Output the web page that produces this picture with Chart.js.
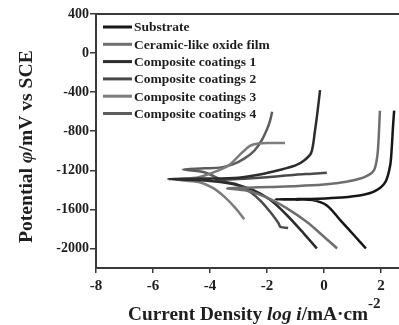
<!DOCTYPE html>
<html>
<head>
<meta charset="utf-8">
<script src="https://cdn.jsdelivr.net/npm/chart.js@4.4.1/dist/chart.umd.min.js"></script>
<style>
  html, body { margin: 0; padding: 0; background: #fff; }
  #wrap { width: 399px; height: 325px; }
</style>
</head>
<body>
<div id="wrap"><canvas id="chart"></canvas></div>
<script>
// Tafel curves, log i (mA/cm2) vs potential (mV vs SCE)
const seriesNames = ['Substrate', 'Ceramic-like oxide film', 'Composite coatings 1',
  'Composite coatings 2', 'Composite coatings 3', 'Composite coatings 4'];
const seriesColors = ['#161616', '#6e6e6e', '#2c2c2c', '#4a4a4a', '#7c7c7c', '#5c5c5c'];

const substrateLogI = [1.47, 1.1, 0.6, 0.1, -0.4, -1.0, -1.7, -1.0, -0.2, 0.6, 1.3, 1.8, 2.15, 2.32, 2.38, 2.42, 2.46];
const substrateE = [-2000, -1880, -1720, -1560, -1505, -1500, -1497, -1495, -1490, -1478, -1455, -1410, -1320, -1150, -950, -750, -590];

const ceramicLogI = [0.46, 0.0, -0.6, -1.3, -2.0, -2.7, -3.4, -2.7, -1.9, -0.9, 0.0, 0.5, 1.0, 1.45, 1.75, 1.87, 1.92, 1.96];
const ceramicE = [-2000, -1880, -1730, -1590, -1480, -1410, -1385, -1378, -1370, -1360, -1345, -1330, -1305, -1265, -1200, -1050, -850, -590];

const comp1LogI = [-0.25, -0.7, -1.3, -1.9, -2.5, -3.2, -4.2, -5.47, -4.2, -3.0, -2.2, -1.6, -1.0, -0.7, -0.45, -0.32, -0.22, -0.14];
const comp1E = [-2000, -1850, -1660, -1500, -1400, -1340, -1305, -1290, -1285, -1275, -1240, -1200, -1150, -1100, -1020, -800, -580, -380];

const comp2LogI = [-1.26, -1.53, -1.6, -1.85, -2.2, -2.6, -3.1, -3.8, -3.0, -2.0, -1.0, -0.4, 0.1];
const comp2E = [-1790, -1780, -1740, -1640, -1520, -1420, -1340, -1300, -1290, -1270, -1245, -1235, -1225];

const comp3LogI = [-2.8, -3.1, -3.5, -3.9, -4.4, -5.2, -4.4, -3.7, -3.3, -2.95, -2.6, -2.3, -1.9, -1.37];
const comp3E = [-1700, -1590, -1470, -1380, -1320, -1295, -1270, -1200, -1140, -1040, -950, -925, -920, -920];

const comp4LogI = [-3.6, -4.2, -4.95, -4.2, -3.6, -3.2, -2.8, -2.45, -2.2, -2.0, -1.9, -1.82];
const comp4E = [-1300, -1220, -1190, -1180, -1170, -1140, -1080, -1000, -900, -780, -700, -600];

const xTicks = [-8, -6, -4, -2, 0, 2];
const yTicks = [400, 0, -400, -800, -1200, -1600, -2000];

const curves = [
  [substrateLogI, substrateE], [ceramicLogI, ceramicE], [comp1LogI, comp1E],
  [comp2LogI, comp2E], [comp3LogI, comp3E], [comp4LogI, comp4E]
];

const datasets = curves.map(([xs, ys], i) => ({
  label: seriesNames[i],
  data: xs.map((x, j) => ({x: x, y: ys[j]})),
  showLine: true,
  borderColor: seriesColors[i],
  backgroundColor: seriesColors[i],
  borderWidth: 2.5,
  pointRadius: 0,
  tension: 0.3
}));

const SERIF = "'Liberation Serif', 'Times New Roman', serif";

function drawRuns(ctx, runs) {
  let x = 0;
  runs.forEach(r => {
    ctx.font = r.font;
    ctx.fillText(r.text, x, r.dy || 0);
    x += ctx.measureText(r.text).width;
  });
}

const decor = {
  id: 'decor',
  afterDraw(chart) {
    const ctx = chart.ctx;
    const area = chart.chartArea;
    ctx.save();
    ctx.fillStyle = '#1e1e1e';
    ctx.textAlign = 'left';

    // legend in the upper left of the plot
    chart.data.datasets.forEach((ds, i) => {
      const y = area.top + 13 + i * 17.3;
      ctx.strokeStyle = ds.borderColor;
      ctx.lineWidth = 3;
      ctx.beginPath();
      ctx.moveTo(area.left + 7, y);
      ctx.lineTo(area.left + 36, y);
      ctx.stroke();
      ctx.font = 'bold 13.5px ' + SERIF;
      ctx.textBaseline = 'middle';
      ctx.fillText(ds.label, area.left + 38, y + 1);
    });

    // x axis title
    ctx.textBaseline = 'alphabetic';
    ctx.save();
    ctx.translate(128, 320);
    drawRuns(ctx, [
      {text: 'Current Density ', font: 'bold 19.3px ' + SERIF},
      {text: 'log i', font: 'italic bold 19.3px ' + SERIF},
      {text: '/mA\u00b7cm', font: 'bold 19.3px ' + SERIF},
      {text: '-2', font: 'bold 15px ' + SERIF, dy: -12}
    ]);
    ctx.restore();

    // y axis title
    ctx.save();
    ctx.translate(32, 243);
    ctx.rotate(-Math.PI / 2);
    drawRuns(ctx, [
      {text: 'Potential ', font: 'bold 19.6px ' + SERIF},
      {text: '\u03c6', font: 'italic bold 19.6px ' + SERIF},
      {text: '/mV vs SCE', font: 'bold 19.6px ' + SERIF}
    ]);
    ctx.restore();
    ctx.restore();
  }
};

const axisColor = '#3a3a3a';

new Chart(document.getElementById('chart'), {
  type: 'scatter',
  data: {datasets: datasets},
  options: {
    responsive: true,
    maintainAspectRatio: false,
    animation: false,
    layout: {padding: {left: 40, right: 0, top: 0, bottom: 0}},
    plugins: {legend: {display: false}, tooltip: {enabled: false}},
    scales: {
      x: {
        type: 'linear', position: 'bottom', min: -8, max: 2.63,
        afterBuildTicks: s => { s.ticks = xTicks.map(v => ({value: v})); },
        afterFit: s => { s.height = 57; },
        border: {color: axisColor, width: 2},
        grid: {drawOnChartArea: false, tickLength: 5, color: axisColor, lineWidth: 1.5},
        ticks: {color: '#1e1e1e', padding: 4, font: {family: SERIF, size: 15, weight: 'bold'},
          callback: v => String(v)}
      },
      xTop: {
        type: 'linear', position: 'top', min: -8, max: 2.63,
        afterFit: s => { s.height = 14; },
        border: {color: axisColor, width: 2},
        grid: {display: false},
        ticks: {display: false}
      },
      y: {
        type: 'linear', position: 'left', min: -2200, max: 400,
        afterBuildTicks: s => { s.ticks = yTicks.map(v => ({value: v})); },
        afterFit: s => { s.width = 56; },
        border: {color: axisColor, width: 2},
        grid: {drawOnChartArea: false, tickLength: 6, color: axisColor, lineWidth: 1.5},
        ticks: {color: '#1e1e1e', padding: 1, font: {family: SERIF, size: 14, weight: 'bold'},
          callback: v => String(v)}
      }
    }
  },
  plugins: [decor]
});
</script>
</body>
</html>
